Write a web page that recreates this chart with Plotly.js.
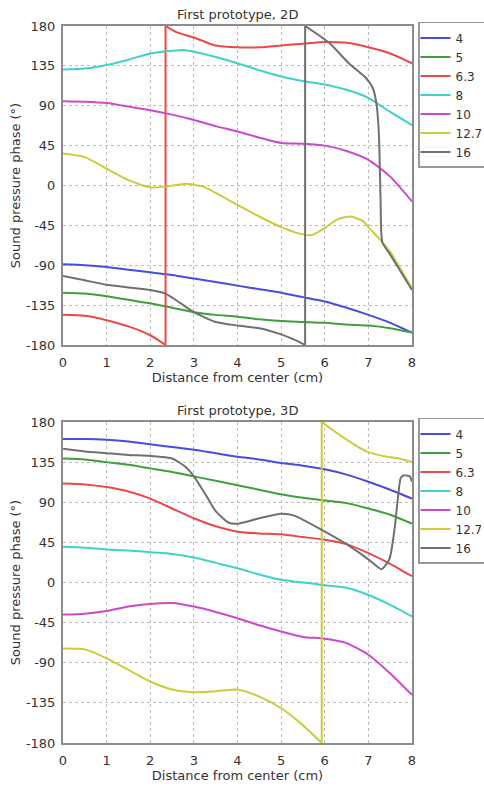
<!DOCTYPE html>
<html>
<head>
<meta charset="utf-8">
<script src="https://cdn.plot.ly/plotly-3.0.1.min.js"></script>
<style>html,body{margin:0;padding:0;background:#fff;}#chart{width:484px;height:790px;}</style>
</head>
<body>
<div id="chart"></div>
<script>
// ---- categories / labels ----
const seriesNames = ['4', '5', '6.3', '8', '10', '12.7', '16'];
const seriesColors = ['#4b4be0', '#3f9f3f', '#ec4848', '#40d2c8', '#cc48cc', '#cccc3a', '#707070'];
const yTickVals = [-180, -135, -90, -45, 0, 45, 90, 135, 180];
const yTickText = ['-180', '-135', '-90', '-45', '0', '45', '90', '135', '180'];
const xTickVals = [0, 1, 2, 3, 4, 5, 6, 7, 8];
const titleTop = 'First prototype, 2D';
const titleBottom = 'First prototype, 3D';
const xTitle = 'Distance from center (cm)';
const yTitle = 'Sound pressure phase (°)';

// ---- 2D data ----
const xStd = [0, 0.5, 1, 1.5, 2, 2.5, 3, 3.5, 4, 4.5, 5, 5.5, 6, 6.5, 7, 7.5, 8];
const y2d_4 = [-89, -90, -92, -95, -98, -101, -105, -109, -113, -117, -121, -126, -131, -138, -146, -155, -166];
const y2d_5 = [-121, -122, -125, -129, -133, -138, -143, -146, -148, -151, -153, -154, -155, -157, -158, -161, -166];
const x2d_63 = [0, 0.5, 1, 1.5, 2, 2.2, 2.35, 2.35, 2.6, 3, 3.5, 4, 4.5, 5, 5.5, 6, 6.5, 7, 7.5, 8];
const y2d_63 = [-146, -147, -152, -159, -169, -175, -180, 180, 173, 167, 158, 156, 156, 158, 160, 162, 161, 156, 149, 138];
const x2d_8 = [0, 0.5, 1, 1.5, 2, 2.5, 2.75, 3, 3.5, 4, 4.5, 5, 5.5, 6, 6.5, 7, 7.5, 8];
const y2d_8 = [131, 132, 136, 142, 149, 152, 153, 151, 145, 138, 130, 123, 118, 114, 108, 99, 83, 68];
const y2d_10 = [95, 94.5, 93, 89, 85, 80, 74, 67, 61, 54, 48, 47, 45, 39, 29, 10, -18];
const x2d_127 = [0, 0.5, 1, 1.5, 2, 2.4, 2.8, 3.2, 3.6, 4, 4.5, 5, 5.4, 5.7, 6, 6.3, 6.6, 6.9, 7, 7.25, 7.5, 7.75, 8];
const y2d_127 = [36, 32, 19, 6, -2, -1, 2, -1, -11, -22, -35, -47, -54, -56, -48, -38, -35, -41, -47, -60, -75, -95, -116];
const x2d_16 = [0, 0.5, 1, 1.5, 2, 2.35, 2.7, 3, 3.5, 4, 4.5, 5, 5.3, 5.55, 5.55, 6.1, 6.55, 6.95, 7.1, 7.18, 7.24, 7.28, 7.32, 7.5, 7.75, 8];
const y2d_16 = [-102, -107, -112, -115, -118, -122, -133, -143, -154, -158, -161, -168, -174, -180, 180, 161, 138, 121, 110, 94, 59, -16, -64, -78, -98, -118];

// ---- 3D data ----
const y3d_4 = [161, 161, 160, 158, 155, 152, 149, 145, 141, 138, 134, 131, 127, 121, 113, 104, 94];
const y3d_5 = [139, 138, 135, 132, 128, 124, 119, 114, 109, 104, 99, 95, 92, 89, 83, 76, 66];
const y3d_63 = [111, 110, 107, 102, 94, 83, 72, 63, 57, 55, 54, 51, 48, 43, 33, 21, 7];
const y3d_8 = [40, 39, 37, 36, 34, 32, 28, 22, 16, 9, 3, 0, -3, -6, -14, -25, -38];
const y3d_10 = [-36, -35, -32, -27, -24, -23, -27, -33, -40, -48, -55, -61, -63, -68, -81, -102, -126];
const x3d_127 = [0, 0.5, 1, 1.5, 2, 2.5, 3, 3.5, 4, 4.5, 5, 5.45, 5.93, 5.93, 6.18, 6.57, 6.95, 7.33, 7.71, 8];
const y3d_127 = [-74, -75, -85, -98, -111, -120, -123, -122, -120, -128, -141, -158, -180, 180, 171, 158, 147, 142, 139, 135];
const x3d_16 = [0, 0.5, 1, 1.5, 2, 2.5, 2.8, 3, 3.3, 3.5, 3.8, 4, 4.5, 5, 5.3, 5.93, 6.5, 7, 7.3, 7.48, 7.6, 7.68, 7.74, 7.8, 7.95, 8];
const y3d_16 = [150, 147, 145, 143, 142, 139, 130, 119, 96, 80, 67, 66, 72, 77, 75, 59, 43, 26, 15, 26, 60, 96, 117, 120, 119, 113];

const panel2d = [
  [xStd, y2d_4], [xStd, y2d_5], [x2d_63, y2d_63], [x2d_8, y2d_8],
  [xStd, y2d_10], [x2d_127, y2d_127], [x2d_16, y2d_16]
];
const panel3d = [
  [xStd, y3d_4], [xStd, y3d_5], [xStd, y3d_63], [xStd, y3d_8],
  [xStd, y3d_10], [x3d_127, y3d_127], [x3d_16, y3d_16]
];

// split a series at its phase-wrap jumps (repeated x): smooth pieces + straight wrap segments
function addSeries(traces, xs, ys, i, xa, ya, lg) {
  const pieces = [];
  const jumps = [];
  let cx = [xs[0]], cy = [ys[0]];
  for (let k = 1; k < xs.length; k++) {
    if (xs[k] === xs[k - 1]) {
      pieces.push([cx, cy]);
      jumps.push([[xs[k - 1], xs[k]], [ys[k - 1], ys[k]]]);
      cx = []; cy = [];
    }
    cx.push(xs[k]); cy.push(ys[k]);
  }
  pieces.push([cx, cy]);
  const group = lg + '_' + i;
  pieces.forEach((p, j) => traces.push({
    x: p[0], y: p[1], type: 'scatter', mode: 'lines', name: seriesNames[i],
    xaxis: xa, yaxis: ya, legend: lg, legendgroup: group, showlegend: j === 0,
    line: {color: seriesColors[i], width: 2, shape: 'spline', smoothing: 0.6}
  }));
  jumps.forEach(s => traces.push({
    x: s[0], y: s[1], type: 'scatter', mode: 'lines', name: seriesNames[i],
    xaxis: xa, yaxis: ya, legend: lg, legendgroup: group, showlegend: false,
    line: {color: seriesColors[i], width: 2}
  }));
}

const traces = [];
panel2d.forEach((d, i) => addSeries(traces, d[0], d[1], i, 'x', 'y', 'legend'));
panel3d.forEach((d, i) => addSeries(traces, d[0], d[1], i, 'x2', 'y2', 'legend2'));

const fontFam = 'DejaVu Sans, sans-serif';
function xAx(anchor) {
  return {
    anchor: anchor, domain: [0, 1], range: [0, 8], tickvals: xTickVals,
    showgrid: true, gridcolor: '#bdbdbd', griddash: 'dot', gridwidth: 1,
    showline: true, mirror: true, linecolor: '#8c8c8c', linewidth: 2,
    zeroline: false, ticks: 'outside', ticklen: 4, tickcolor: 'rgba(0,0,0,0)',
    tickfont: {family: fontFam, size: 13, color: '#333'},
    title: {text: xTitle, font: {family: fontFam, size: 13, color: '#333'}, standoff: 4}
  };
}
function yAx(anchor, domain) {
  return {
    anchor: anchor, domain: domain, range: [-180, 180],
    tickvals: yTickVals, ticktext: yTickText,
    showgrid: true, gridcolor: '#bdbdbd', griddash: 'dot', gridwidth: 1,
    showline: true, mirror: true, linecolor: '#8c8c8c', linewidth: 2,
    zeroline: false, ticks: 'outside', ticklen: 3, tickcolor: 'rgba(0,0,0,0)',
    tickfont: {family: fontFam, size: 13, color: '#333'},
    title: {text: yTitle, font: {family: fontFam, size: 13, color: '#333'}, standoff: 2}
  };
}
function leg(yTop) {
  return {
    x: 1.0172, xanchor: 'left', y: yTop, yanchor: 'top',
    bordercolor: '#999', borderwidth: 1.5, bgcolor: '#fff',
    font: {family: fontFam, size: 12, color: '#333'},
    itemwidth: 30, tracegroupgap: 0, indentation: -4
  };
}

const layout = {
  width: 484, height: 790,
  margin: {l: 63, r: 72, t: 26, b: 47, autoexpand: false},
  paper_bgcolor: '#fff', plot_bgcolor: '#fff',
  font: {family: fontFam, size: 13, color: '#333'},
  xaxis: xAx('y'),
  yaxis: yAx('x', [0.5551, 1]),
  xaxis2: xAx('y2'),
  yaxis2: yAx('x2', [0, 0.4477]),
  legend: leg(1.0056),
  legend2: leg(0.4533),
  annotations: [
    {text: titleTop, xref: 'x domain', yref: 'y domain', x: 0.5, y: 1, yanchor: 'bottom', yshift: 2,
     showarrow: false, font: {family: fontFam, size: 13, color: '#333'}},
    {text: titleBottom, xref: 'x2 domain', yref: 'y2 domain', x: 0.5, y: 1, yanchor: 'bottom', yshift: 2,
     showarrow: false, font: {family: fontFam, size: 13, color: '#333'}}
  ],
  showlegend: true
};

Plotly.newPlot('chart', traces, layout, {displayModeBar: false, staticPlot: true});
</script>
</body>
</html>
